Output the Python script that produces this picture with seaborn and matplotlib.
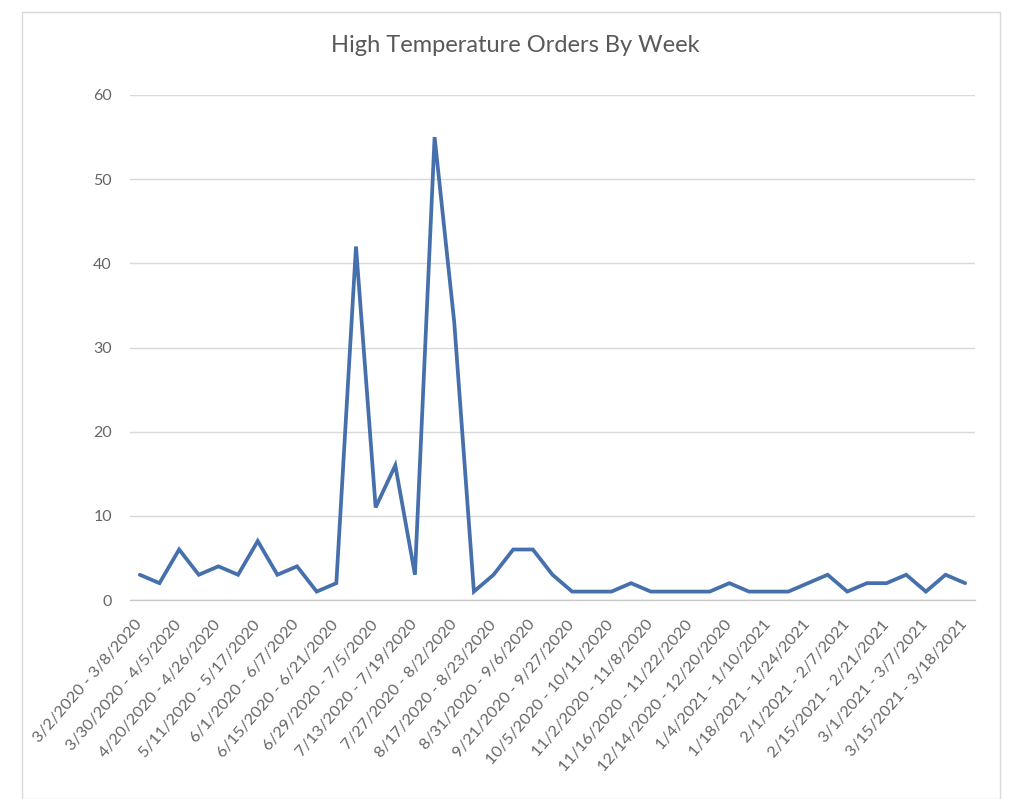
import numpy as np
import pandas as pd
import matplotlib
matplotlib.use("Agg")
import matplotlib.pyplot as plt
from matplotlib.patches import Rectangle
import seaborn as sns

# ---- data ----
title = "High Temperature Orders By Week"
week_labels = [
    "3/2/2020 - 3/8/2020", "3/30/2020 - 4/5/2020", "4/20/2020 - 4/26/2020",
    "5/11/2020 - 5/17/2020", "6/1/2020 - 6/7/2020", "6/15/2020 - 6/21/2020",
    "6/29/2020 - 7/5/2020", "7/13/2020 - 7/19/2020", "7/27/2020 - 8/2/2020",
    "8/17/2020 - 8/23/2020", "8/31/2020 - 9/6/2020", "9/21/2020 - 9/27/2020",
    "10/5/2020 - 10/11/2020", "11/2/2020 - 11/8/2020", "11/16/2020 - 11/22/2020",
    "12/14/2020 - 12/20/2020", "1/4/2021 - 1/10/2021", "1/18/2021 - 1/24/2021",
    "2/1/2021 - 2/7/2021", "2/15/2021 - 2/21/2021", "3/1/2021 - 3/7/2021",
    "3/15/2021 - 3/18/2021",
]
orders = [3, 2, 6, 3, 4, 3, 7, 3, 4, 1,
          2, 42, 11, 16, 3, 55, 33, 1, 3, 6,
          6, 3, 1, 1, 1, 2, 1, 1, 1, 1,
          2, 1, 1, 1, 2, 3, 1, 2, 2, 3,
          1, 3, 2]
y_ticks = [0, 10, 20, 30, 40, 50, 60]

df = pd.DataFrame({"week": np.arange(len(orders)), "orders": orders})

# ---- style ----
sns.set_style("white")
plt.rcParams["font.family"] = ["Lato", "DejaVu Sans"]

W, H = 1010, 799
fig = plt.figure(figsize=(W / 100, H / 100), dpi=100)
ax = fig.add_axes([130 / W, 1 - 600 / H, 845 / W, 505 / H])

# faint spreadsheet/chart frame
fig.patches.append(Rectangle((22 / W, 0), (1000 - 22) / W, 1 - 12 / H,
                             transform=fig.transFigure, fill=False,
                             edgecolor="#d9d9d9", linewidth=1.0))

sns.lineplot(data=df, x="week", y="orders", ax=ax, color="#4670AC",
             linewidth=2.7, solid_joinstyle="miter")

ax.set_xlim(-0.5, len(orders) - 0.5)
ax.set_ylim(0, 60)
ax.set_yticks(y_ticks)
ax.set_yticklabels([str(v) for v in y_ticks])
ax.set_xticks(np.arange(0, len(orders), 2))
ax.set_xticklabels(week_labels, rotation=49, ha="right", va="center",
                   rotation_mode="anchor")
ax.set_xlabel("")
ax.set_ylabel("")

ax.grid(axis="y", color="#d9d9d9", linewidth=1.0)
ax.grid(axis="x", visible=False)
for s in ["top", "right", "left"]:
    ax.spines[s].set_visible(False)
ax.spines["bottom"].set_color("#c8c8c8")
ax.spines["bottom"].set_linewidth(1.0)
ax.set_axisbelow(True)

ax.tick_params(axis="y", length=0, pad=13, labelsize=11.5, labelcolor="#666666")
ax.tick_params(axis="x", length=0, pad=16, labelsize=11.7, labelcolor="#666666")

fig.text(515 / W, 1 - 46 / H, title, ha="center", va="center",
         fontsize=17, color="#595959")

fig.savefig("out.png", dpi=100)
